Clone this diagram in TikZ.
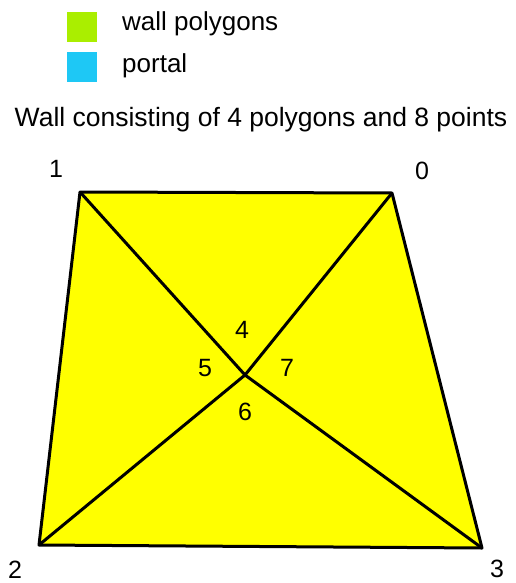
\documentclass[tikz,border=0pt]{standalone}
\usepackage{fontspec}
\setmainfont{Liberation Sans}
\definecolor{wallgreen}{RGB}{170,238,0}
\definecolor{portalblue}{RGB}{30,200,245}
\definecolor{wallyellow}{RGB}{255,255,0}
\tikzset{
  legendbox/.style={minimum size=30pt,inner sep=0pt},
  legendtext/.style={anchor=west,inner sep=0pt,font=\fontsize{26}{28}\selectfont},
  pointlabel/.style={font=\fontsize{25}{27}\selectfont,inner sep=0pt},
  edge/.style={line width=3pt,line join=round}
}
\begin{document}
\begin{tikzpicture}[x=1pt,y=-1pt]
  \useasboundingbox (0,0) rectangle (515,583);
  % legend
  \node[legendbox,fill=wallgreen] (green) at (82,27) {};
  \node[legendbox,fill=portalblue] (blue) at (82,67) {};
  \node[legendtext] (walltxt) at (122,24) {wall polygons};
  \node[legendtext] (portaltxt) at (122,66) {portal};
  \node[inner sep=0pt,font=\fontsize{26.5}{28}\selectfont] (title) at (261,120) {Wall consisting of 4 polygons and 8 points};
  % wall corners
  \coordinate (p0) at (392,193);
  \coordinate (p1) at (80,192);
  \coordinate (p2) at (39,545);
  \coordinate (p3) at (482,548);
  \coordinate (mid) at (245,375);
  \fill[wallyellow] (p0) -- (p1) -- (p2) -- (p3) -- cycle;
  \draw[edge] (p0) -- (p1) -- (p2) -- (p3) -- cycle;
  \draw[edge] (p1) -- (mid) -- (p3);
  \draw[edge] (p0) -- (mid) -- (p2);
  % point numbers
  \node[pointlabel] (n0) at (422,171) {0};
  \node[pointlabel] (n1) at (56,169) {1};
  \node[pointlabel] (n2) at (15,570) {2};
  \node[pointlabel] (n3) at (497,569) {3};
  \node[pointlabel] (n4) at (242,330) {4};
  \node[pointlabel] (n5) at (205,368) {5};
  \node[pointlabel] (n6) at (245,412) {6};
  \node[pointlabel] (n7) at (287,368) {7};
\end{tikzpicture}
\end{document}
